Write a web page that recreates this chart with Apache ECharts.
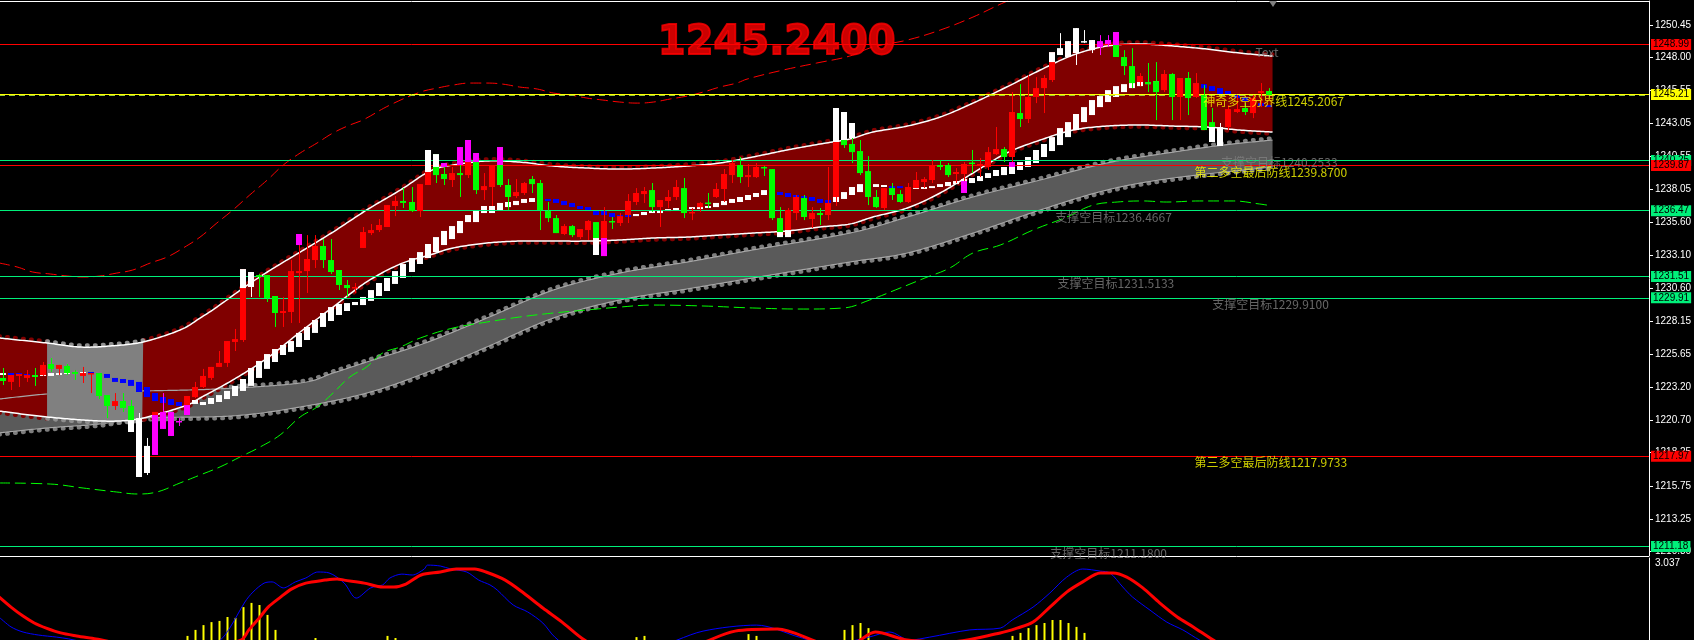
<!DOCTYPE html>
<html><head><meta charset="utf-8">
<script src="https://cdn.jsdelivr.net/npm/echarts@6/dist/echarts.min.js"></script>
<style>html,body{margin:0;padding:0;background:#000;}#c{width:1694px;height:640px;}</style>
</head><body><div id="c"></div>
<script>
// ---------- DATA ----------
// candles: [open, high, low, close]
const candles = [
[1223.87,1224.62,1223.34,1223.64],[1223.57,1224.09,1222.96,1224.09],[1224.02,1224.17,1223.19,1224.17],[1223.87,1224.47,1223.57,1224.09],[1224.09,1224.62,1223.27,1223.94],
[1224.09,1225.07,1224.02,1224.85],[1224.92,1225.37,1224.32,1224.55],[1224.55,1224.85,1224.09,1224.85],[1224.77,1224.92,1224.09,1224.24],[1224.32,1224.47,1223.72,1224.17],
[1224.02,1224.70,1223.49,1224.24],[1224.17,1224.24,1222.73,1224.24],[1224.24,1224.24,1222.28,1222.51],[1222.58,1222.58,1220.85,1221.76],[1221.76,1222.73,1221.46,1222.13],
[1222.13,1222.73,1221.31,1221.61],[1221.76,1222.21,1219.80,1219.80],[1220.85,1221.23,1216.41,1216.41],[1216.71,1219.35,1216.56,1218.75],[1218.07,1221.31,1218.07,1221.31],
[1221.31,1222.73,1220.03,1220.03],[1221.31,1221.31,1219.50,1219.50],[1220.63,1220.85,1220.25,1220.58],[1221.08,1222.51,1221.08,1222.51],[1222.43,1223.57,1222.36,1223.19],
[1223.19,1224.55,1223.11,1224.02],[1223.87,1224.70,1223.72,1224.70],[1224.70,1225.90,1224.70,1225.00],[1225.00,1226.65,1224.70,1226.65],[1226.58,1227.56,1225.90,1226.80],
[1226.73,1232.07,1226.58,1232.07],[1231.85,1231.85,1229.97,1230.72],[1231.62,1231.70,1229.97,1231.47],[1231.62,1231.62,1229.59,1229.89],[1230.04,1230.04,1227.71,1228.76],
[1228.76,1229.97,1227.71,1228.91],[1228.84,1232.75,1228.01,1231.92],[1231.77,1234.71,1228.01,1231.92],[1231.92,1234.63,1230.27,1232.83],[1232.75,1234.63,1232.15,1233.81],
[1233.81,1234.33,1232.15,1232.75],[1232.75,1234.33,1231.70,1231.85],[1232.00,1232.00,1230.49,1230.87],[1230.87,1231.25,1229.97,1230.64],[1230.64,1231.02,1230.27,1230.72],
[1233.66,1235.24,1233.66,1234.86],[1234.78,1235.46,1234.63,1235.01],[1235.01,1235.84,1234.86,1235.39],[1235.24,1236.89,1235.24,1236.89],[1236.82,1237.57,1236.06,1237.20],
[1237.20,1238.17,1236.67,1237.05],[1237.12,1238.25,1236.37,1236.44],[1236.44,1238.47,1235.99,1238.47],[1238.40,1241.04,1238.40,1241.04],[1240.73,1240.73,1238.55,1239.15],
[1239.23,1240.06,1238.40,1238.85],[1238.78,1239.76,1238.25,1239.30],[1239.30,1241.26,1237.50,1239.15],[1239.15,1241.79,1238.93,1241.79],[1240.81,1240.81,1237.72,1238.02],
[1238.02,1239.30,1237.27,1238.32],[1238.25,1239.91,1236.82,1239.91],[1241.26,1241.26,1238.25,1238.40],[1238.40,1238.85,1236.52,1237.50],[1237.57,1238.85,1237.42,1237.87],
[1237.80,1238.63,1237.65,1238.55],[1238.85,1239.08,1237.80,1238.47],[1238.55,1238.78,1235.01,1236.52],[1236.44,1237.12,1235.61,1235.91],[1235.91,1236.14,1234.78,1234.78],
[1234.71,1235.46,1234.63,1235.31],[1235.31,1235.39,1234.48,1234.63],[1234.48,1235.09,1234.33,1235.09],[1235.01,1235.76,1234.26,1235.69],[1235.61,1235.61,1233.13,1233.13],
[1233.05,1236.74,1233.05,1235.69],[1235.69,1235.99,1235.09,1235.61],[1235.54,1236.29,1235.31,1236.06],[1236.14,1237.72,1235.54,1237.20],[1237.12,1238.17,1236.89,1237.80],
[1237.72,1238.25,1237.05,1237.95],[1238.02,1238.55,1236.37,1236.74],[1236.74,1237.27,1235.24,1237.27],[1237.20,1238.02,1236.67,1237.50],[1237.50,1238.78,1237.27,1238.25],
[1238.17,1238.93,1235.91,1236.29],[1236.33,1236.67,1235.76,1236.37],[1236.74,1237.12,1236.37,1237.05],[1237.08,1237.80,1236.67,1237.05],[1237.50,1238.55,1237.42,1238.10],
[1238.10,1239.60,1237.12,1239.23],[1239.15,1240.28,1238.55,1240.06],[1239.91,1240.51,1238.55,1239.00],[1239.00,1239.98,1238.25,1239.15],[1239.00,1240.06,1238.93,1239.76],
[1239.76,1239.83,1239.08,1239.68],[1239.60,1239.60,1235.76,1235.91],[1235.91,1236.74,1234.48,1234.48],[1234.48,1236.67,1234.48,1236.52],[1236.29,1237.65,1235.76,1237.50],
[1237.42,1237.65,1235.76,1235.99],[1235.84,1236.74,1235.16,1236.29],[1236.29,1236.67,1235.39,1236.14],[1236.14,1239.76,1235.76,1237.05],[1237.50,1244.20,1236.82,1244.20],
[1243.90,1243.90,1241.19,1241.41],[1241.49,1243.07,1240.06,1240.88],[1240.96,1241.79,1239.15,1239.30],[1239.45,1240.58,1236.89,1237.50],[1237.50,1238.02,1236.67,1236.74],
[1236.67,1238.17,1236.52,1238.17],[1238.17,1238.55,1237.27,1237.65],[1237.72,1238.02,1237.05,1237.12],[1237.12,1238.55,1237.05,1238.25],[1238.17,1239.38,1238.17,1238.78],
[1238.63,1239.00,1238.17,1238.85],[1238.78,1240.28,1238.55,1239.91],[1239.91,1240.28,1239.53,1239.76],[1239.91,1240.06,1239.00,1239.15],[1239.23,1239.68,1238.55,1239.38],
[1239.23,1240.13,1237.80,1239.98],[1240.09,1241.04,1239.30,1240.06],[1239.83,1240.43,1239.00,1239.98],[1239.76,1241.26,1239.53,1240.88],[1240.73,1242.77,1240.66,1241.11],
[1241.11,1241.26,1240.13,1240.51],[1240.51,1245.40,1240.06,1243.90],[1243.82,1246.00,1242.77,1243.37],[1243.37,1246.68,1243.07,1245.03],[1245.03,1246.53,1244.57,1245.70],
[1245.70,1246.68,1243.82,1246.46],[1246.31,1248.41,1246.16,1248.41],[1248.19,1249.84,1248.19,1248.71],[1248.04,1249.24,1248.04,1249.24],[1248.34,1250.22,1247.44,1250.22],
[1249.24,1250.07,1249.09,1249.20],[1248.56,1249.32,1248.34,1249.32],[1249.24,1249.69,1248.19,1248.79],[1249.32,1249.69,1248.79,1249.02],[1249.92,1249.92,1248.04,1248.04],
[1248.04,1248.56,1246.68,1247.36],[1247.36,1248.71,1245.70,1246.08],[1246.16,1246.83,1245.85,1246.61],[1246.16,1247.59,1245.40,1246.00],[1246.23,1247.66,1243.29,1245.40],
[1245.55,1247.06,1245.40,1246.76],[1246.76,1246.83,1243.29,1245.03],[1245.03,1246.46,1243.29,1246.46],[1246.46,1246.91,1243.67,1244.95],[1245.03,1246.83,1244.95,1246.08],
[1245.18,1245.93,1242.54,1242.54],[1243.14,1244.20,1241.64,1241.64],[1242.77,1243.07,1241.34,1241.34],[1242.77,1244.42,1242.54,1244.12],[1243.90,1245.18,1243.82,1244.12],
[1244.20,1244.57,1243.67,1243.90],[1243.82,1245.18,1243.44,1244.95],[1245.33,1246.08,1244.27,1245.48],[1245.48,1245.70,1244.95,1245.18]
];
const candleColors = 'grrrgrgrgg'+'rrggrggwwr'+'mmmrrrrrrr'+'rwgggrrrrr'+'ggggrrrrrr'+'ggrrggrgrg'+'rrggrrgggg'+'rgrrgrgrrr'+'rgrrrgrrgr'+'rrgrrgggrr'+'grgrrggggg'+'rggrrrrggr'+'rgrrrgrgrr'+'rrwwwwwmmg'+'ggrggrgrgr'+'ggwrrgrrg';

// step indicator blocks (top, bottom) per candle
const midHi = [1224.24,1224.24,1224.24,1224.17,1224.09,1224.17,1224.24,1224.24,1224.32,1224.32,1224.32,1224.32,1224.24,1224.17,1223.87,1223.79,1223.72,1223.57,1223.19,1222.73,
1222.43,1222.28,1222.06,1221.98,1222.21,1222.06,1222.36,1222.58,1222.89,1223.27,1223.79,1224.62,1225.15,1225.67,1226.05,1226.35,1226.65,1227.26,1227.71,1228.23,
1228.76,1229.21,1229.44,1229.51,1229.59,1229.97,1230.49,1231.02,1231.40,1231.92,1232.45,1232.90,1233.35,1233.96,1234.48,1234.94,1235.31,1235.69,1236.14,1236.52,
1236.82,1236.82,1237.05,1237.12,1237.20,1237.35,1237.42,1237.50,1237.35,1237.35,1237.20,1237.05,1236.82,1236.74,1236.52,1236.44,1236.29,1236.14,1236.14,1236.22,
1236.37,1236.44,1236.52,1236.59,1236.67,1236.74,1236.74,1236.74,1236.82,1237.05,1237.20,1237.35,1237.50,1237.65,1237.80,1238.02,1237.87,1237.87,1237.80,1237.65,
1237.57,1237.50,1237.35,1237.27,1237.50,1237.87,1238.25,1238.47,1238.55,1238.47,1238.40,1238.32,1238.32,1238.25,1238.25,1238.25,1238.32,1238.47,1238.63,1238.70,
1238.85,1238.93,1239.08,1239.30,1239.53,1239.76,1239.83,1240.13,1240.51,1241.04,1241.49,1242.01,1242.69,1243.14,1243.75,1244.27,1244.80,1245.10,1245.55,1245.85,
1246.00,1246.08,1246.16,1246.16,1246.23,1246.23,1246.16,1246.16,1246.16,1246.08,1246.00,1245.85,1245.70,1245.48,1245.25,1245.03,1244.80,1244.57,1244.42];
const midLo = [1224.09,1224.09,1224.09,1224.02,1223.94,1224.02,1224.02,1224.09,1224.17,1224.17,1224.17,1224.17,1224.02,1223.87,1223.57,1223.49,1223.27,1222.81,1222.43,1222.13,
1221.98,1221.83,1221.76,1221.76,1221.91,1221.83,1221.91,1222.06,1222.28,1222.51,1222.89,1223.27,1223.87,1224.55,1225.07,1225.60,1225.83,1226.20,1226.73,1227.26,
1227.71,1228.16,1228.61,1228.91,1229.36,1229.36,1229.67,1230.04,1230.42,1230.95,1231.40,1231.85,1232.45,1232.90,1233.35,1233.88,1234.33,1234.78,1235.61,1235.61,
1236.29,1236.29,1236.52,1236.74,1236.89,1237.05,1237.12,1237.35,1237.20,1237.05,1236.89,1236.74,1236.59,1236.44,1236.14,1236.14,1235.99,1235.99,1235.99,1236.06,
1236.14,1236.29,1236.29,1236.44,1236.52,1236.59,1236.59,1236.59,1236.67,1236.74,1236.89,1237.05,1237.12,1237.27,1237.50,1237.65,1237.72,1237.65,1237.50,1237.50,
1237.42,1237.20,1237.05,1237.05,1237.12,1237.35,1237.65,1237.87,1238.25,1238.25,1238.25,1238.17,1238.17,1238.10,1238.10,1238.10,1238.17,1238.25,1238.32,1238.47,
1238.55,1238.55,1238.70,1238.93,1239.08,1239.15,1239.23,1239.53,1239.76,1240.06,1240.51,1240.96,1241.41,1242.01,1242.54,1243.14,1243.67,1244.27,1244.65,1245.03,
1245.40,1245.70,1245.85,1246.00,1246.08,1246.00,1246.00,1246.00,1245.93,1245.85,1245.70,1245.48,1245.25,1245.18,1244.95,1244.73,1244.50,1244.35,1244.27];
const midColors = 'wbbbbwwwwww'+'bbbbbbbbbbbbb'+'wwwwwwwwwwwwwwwwwwwwwwwwwwwwwwwwwwwwwwwwwwww'+'bbbbbbbbbbb'+'wwwwwwwwwwwwwwwwww'+'bbbbbbb'+'wwwwwww'+'bbb'+'wwwwwwwwwwwwwwwwwwwwwwwwwwwwwwww'+'bbbbbbbbbbbbb';

// candle parts outside the channel: [index, top, bottom, colour key]
const overlays = [
[16,1220.70,1219.80,'w'],[19,1221.08,1218.07,'m'],[23,1221.83,1221.08,'m'],[30,1232.07,1230.64,'w'],[37,1234.71,1233.88,'m'],
[53,1241.04,1239.38,'w'],[54,1240.73,1239.76,'w'],[55,1240.06,1239.76,'m'],[57,1241.26,1239.91,'m'],[58,1241.79,1240.13,'m'],
[59,1240.81,1240.13,'m'],[62,1241.26,1239.91,'m'],[74,1234.41,1233.13,'w'],[75,1234.41,1233.05,'m'],[97,1234.86,1234.48,'w'],
[98,1235.01,1234.48,'w'],[104,1244.20,1241.64,'w'],[105,1243.90,1241.79,'w'],[106,1243.07,1241.94,'w'],[120,1238.70,1237.80,'m'],
[126,1240.13,1239.76,'m'],[131,1248.41,1247.66,'w'],[139,1249.92,1248.94,'m'],[151,1242.77,1241.64,'w']
];

// channel edges [bar index, price]
const bandUpper = [[-0.5,1226.88],[5.5,1226.50],[9.6,1226.20],[13.4,1226.28],[17.5,1226.58],[22.1,1227.48],[24.6,1228.38],[26.7,1229.21],[30.0,1230.64],[33.0,1231.85],[37.1,1233.35],[41.2,1234.86],[45.4,1236.52],[49.6,1238.02],[53.3,1239.45],[56.2,1239.91],[60.4,1240.21],[64.5,1240.13],[68.7,1239.83],[72.9,1239.68],[77.0,1239.60],[81.2,1239.68],[85.4,1239.83],[89.5,1240.06],[93.6,1240.51],[97.9,1241.04],[102.0,1241.49],[105.7,1241.86],[108.6,1242.39],[112.9,1242.84],[117.0,1243.52],[121.1,1244.57],[125.3,1245.78],[129.5,1247.06],[133.6,1248.19],[137.8,1248.87],[142.0,1249.02],[146.1,1248.87],[150.3,1248.64],[154.4,1248.34],[158.5,1248.11]];
const bandLower = [[-0.5,1221.38],[5.5,1220.93],[12.1,1220.63],[16.0,1220.70],[19.0,1221.08],[23.0,1221.83],[24.6,1222.36],[28.7,1223.72],[33.0,1225.37],[37.1,1227.33],[41.2,1229.21],[45.4,1231.10],[49.6,1232.45],[53.3,1233.13],[56.2,1233.66],[60.4,1234.03],[64.5,1234.18],[68.7,1234.18],[72.9,1234.18],[77.0,1234.26],[81.2,1234.41],[85.4,1234.48],[89.5,1234.63],[93.6,1234.78],[97.9,1234.94],[102.0,1235.24],[105.7,1235.46],[108.6,1235.99],[112.9,1236.67],[117.0,1237.80],[121.1,1239.30],[125.3,1240.81],[129.5,1241.79],[133.6,1242.54],[137.8,1242.84],[142.0,1242.92],[146.1,1242.84],[150.3,1242.77],[154.4,1242.54],[158.5,1242.39]];
const grayZone = [5.5, 17.5];
const chanUpper = [[-0.5,1222.28],[5.5,1222.66],[12.1,1222.81],[17.5,1222.89],[26.7,1223.04],[37.1,1223.49],[41.2,1224.24],[45.4,1225.07],[52.7,1226.50],[60.4,1228.38],[68.7,1230.49],[77.0,1231.77],[85.4,1232.60],[93.6,1233.51],[105.7,1234.78],[112.9,1235.99],[121.1,1237.50],[129.5,1238.78],[137.8,1240.06],[146.1,1240.88],[152.3,1241.41],[158.5,1241.79]];
const chanLower = [[-0.5,1219.73],[5.5,1220.10],[12.1,1220.40],[17.5,1220.85],[28.7,1221.01],[37.1,1221.68],[45.4,1222.73],[52.7,1224.24],[60.4,1226.20],[68.7,1228.38],[77.0,1229.74],[85.4,1230.57],[93.6,1231.40],[105.7,1232.60],[112.9,1233.28],[121.1,1234.78],[129.5,1236.52],[137.8,1238.02],[146.1,1238.93],[158.5,1239.76]];

const redDash = [[-0.5,1232.53],[1.75,1232.23],[3.7,1231.85],[5.9,1231.70],[8.0,1231.55],[10.0,1231.47],[12.1,1231.55],[14.2,1231.77],[16.2,1232.00],[18.4,1232.53],[20.5,1232.98],[22.5,1233.66],[24.6,1234.48],[26.7,1235.54],[28.7,1236.52],[30.8,1237.65],[33.0,1238.78],[35.0,1239.91],[37.1,1240.81],[39.2,1241.56],[41.2,1242.32],[43.3,1242.92],[44.9,1243.29],[48.3,1244.42],[52.1,1245.40],[54.2,1245.70],[56.2,1245.93],[58.3,1246.08],[60.4,1246.08],[62.4,1246.00],[64.5,1245.78],[66.7,1245.63],[68.7,1245.33],[70.8,1245.18],[72.9,1244.95],[74.9,1244.80],[77.0,1244.65],[79.2,1244.57],[81.2,1244.65],[83.3,1244.88],[85.4,1245.10],[87.4,1245.40],[89.5,1245.78],[91.6,1246.08],[92.9,1246.38],[97.4,1247.06],[101.6,1247.59],[105.7,1248.11],[108.6,1248.79],[112.9,1249.32],[117.0,1250.07],[121.1,1251.05],[125.1,1252.18],[128.2,1252.93]];
const greenDash = [[-0.5,1215.96],[5.9,1215.88],[10.0,1215.58],[14.2,1215.28],[16.8,1215.13],[19.2,1215.28],[22.1,1215.96],[24.6,1216.56],[27.1,1217.17],[29.6,1217.92],[32.1,1218.67],[34.6,1219.58],[37.1,1220.93],[39.2,1221.68],[41.2,1222.73],[43.3,1223.94],[45.4,1224.70],[47.4,1225.75],[49.6,1226.20],[52.1,1226.88],[56.2,1227.63],[60.4,1228.08],[64.5,1228.46],[68.7,1228.76],[72.9,1228.99],[77.0,1229.21],[81.2,1229.36],[87.4,1229.29],[93.6,1229.14],[99.9,1229.06],[104.9,1229.14],[108.2,1229.74],[112.0,1230.64],[115.1,1231.40],[118.2,1232.15],[121.1,1233.28],[124.5,1233.88],[128.6,1235.01],[132.8,1235.99],[136.1,1236.89],[139.1,1237.12],[142.3,1237.20],[145.3,1237.12],[149.4,1237.20],[153.6,1237.20],[156.9,1236.97],[157.8,1236.89]];

// lower pane (MACD-like)
const macdBlue = [[-0.5,1.07],[1.0,0.74],[2.5,0.57],[4.4,0.47],[6.7,0.40],[8.2,0.34],[12.1,0.14],[24.6,0.04],[27.1,0.30],[28.3,0.70],[30.2,1.57],[31.2,1.90],[32.6,2.20],[33.6,2.24],[35.0,2.04],[36.5,2.24],[37.8,2.37],[39.3,2.57],[40.7,2.54],[42.6,2.20],[44.1,1.70],[45.9,2.04],[47.4,2.14],[48.3,2.37],[49.8,2.50],[51.1,2.47],[52.6,2.67],[53.0,2.80],[54.6,2.77],[55.9,2.67],[57.9,2.57],[59.4,2.30],[60.8,2.14],[61.7,1.97],[63.7,1.47],[65.5,1.24],[67.4,0.87],[68.9,0.40],[71.4,-0.03],[80.8,0.04],[87.4,0.60],[94.1,0.80],[99.4,0.40],[103.1,0.14],[108.1,0.40],[110.7,0.57],[113.2,0.30],[115.7,0.40],[120.7,0.64],[124.5,0.70],[126.0,0.97],[128.6,1.40],[130.7,1.87],[132.8,2.40],[134.8,2.67],[137.0,2.60],[138.2,2.54],[139.8,2.07],[141.0,1.74],[143.2,1.30],[145.3,0.90],[147.3,0.64],[149.4,0.30],[152.5,-0.10],[157.8,-0.36]];
const macdRed = [[-0.5,1.74],[1.0,1.40],[2.5,1.10],[3.9,0.87],[5.4,0.70],[7.2,0.54],[9.2,0.44],[11.6,0.34],[15.9,0.14],[24.6,0.04],[29.7,0.30],[30.7,0.64],[32.1,1.07],[33.1,1.40],[34.5,1.70],[36.0,2.00],[37.8,2.20],[40.2,2.30],[41.7,2.34],[42.6,2.30],[45.1,2.20],[47.4,2.07],[48.8,2.07],[50.3,2.17],[52.2,2.47],[54.6,2.57],[56.6,2.67],[58.9,2.67],[60.3,2.57],[62.7,2.30],[65.0,1.87],[67.4,1.37],[69.8,0.90],[72.6,0.30],[75.8,-0.10],[84.5,-0.03],[91.4,0.60],[96.7,0.67],[102.2,0.20],[105.7,0.14],[108.9,0.57],[112.9,0.30],[118.2,0.24],[124.5,0.54],[126.6,0.70],[128.6,0.90],[130.7,1.40],[132.8,1.90],[134.8,2.24],[137.0,2.54],[138.6,2.54],[140.3,2.40],[142.3,2.04],[144.4,1.54],[146.6,1.07],[148.6,0.74],[151.1,0.30],[153.8,-0.10],[157.8,-0.36]];
const macdHist = [[23,0.44],[24,0.64],[25,0.80],[26,0.90],[27,0.94],[28,1.07],[29,1.04],[30,1.40],[31,1.54],[32,1.47],[33,1.14],[34,0.64],[39,0.37],[48,0.44],[49,0.37],[79,0.40],[80,0.44],[93,0.50],[94,0.44],[105,0.64],[106,0.80],[107,0.87],[108,0.70],[126,0.44],[127,0.54],[128,0.70],[129,0.80],[130,0.87],[131,0.97],[132,0.97],[133,0.87],[134,0.74],[135,0.54]];

// horizontal levels [price, colour]
const levels = [[1248.99,'#ff0000'],[1245.21,'#ffff00'],[1240.25,'#00f07a'],[1239.87,'#ff0000'],[1236.47,'#00f07a'],[1231.51,'#00f07a'],[1229.91,'#00f07a'],[1217.97,'#ff0000'],[1211.18,'#00f07a']];
const priceTicks = [1250.45,1248.00,1245.55,1243.05,1240.55,1238.05,1235.60,1233.10,1230.60,1228.15,1225.65,1223.20,1220.70,1218.25,1215.75,1213.25,1210.80];
const priceRange = [1210.46, 1252.26];
const lowerRange = [0.3037, 3.037];
const lowerTicks = [3.037];
// text objects [text, bar index, price, colour key]
const texts = [
['支撑空目标1240.2533',152.0,1240.13,'gray'],
['神奇多空分界线1245.2067',149.8,1244.73,'yellow'],
['第二多空最后防线1239.8700',148.7,1239.38,'yellow'],
['支撑空目标1236.4667',131.3,1235.99,'gray'],
['支撑空目标1231.5133',131.6,1231.02,'gray'],
['支撑空目标1229.9100',150.9,1229.44,'gray'],
['第三多空最后防线1217.9733',148.7,1217.47,'yellow'],
['支撑空目标1211.1800',130.7,1210.69,'gray'],
['Text',156.3,1248.41,'gray']
];
const title = ['1245.2400', 96.6, 1249.05];

// ---------- RENDER ----------
const COL = {r:'#ff0000', g:'#00ff00', w:'#ffffff', m:'#ff00ff', b:'#0000ff', yellow:'#ffff00', gray:'#808080'};
const CJK = '"Noto Sans CJK SC","Liberation Sans",sans-serif';

function crSample(pts){
  const out=[], n=pts.length;
  for(let i=0;i<n-1;i++){
    const p0=pts[Math.max(i-1,0)], p1=pts[i], p2=pts[i+1], p3=pts[Math.min(i+2,n-1)];
    const steps=Math.max(2,Math.ceil(Math.abs(p2[0]-p1[0])/2));
    for(let s=0;s<steps;s++){
      const t=s/steps,t2=t*t,t3=t2*t;
      const f=k=>0.5*((2*p1[k])+(-p0[k]+p2[k])*t+(2*p0[k]-5*p1[k]+4*p2[k]-p3[k])*t2+(-p0[k]+3*p1[k]-3*p2[k]+p3[k])*t3);
      out.push([f(0),f(1)]);
    }
  }
  out.push(pts[n-1].slice());
  return out;
}

const chart = echarts.init(document.getElementById('c'), null, {renderer:'canvas'});

function bandRender(params, api){
  const px = arr => arr.map(d => api.coord(d));
  const up=crSample(px(bandUpper)), lo=crSample(px(bandLower));
  const cu=crSample(px(chanUpper)), cl=crSample(px(chanLower));
  const gz0=api.coord([grayZone[0],1230])[0], gz1=api.coord([grayZone[1],1230])[0];
  const inX=(pts,a,b)=>pts.filter(p=>p[0]>=a&&p[0]<=b);
  const sh=(pts,dy)=>pts.map(p=>[p[0],p[1]+dy]);
  const poly=(a,b,fill)=>({type:'polygon',shape:{points:a.concat(b.slice().reverse())},style:{fill:fill}});
  const pl=(pts,stroke,lw,dash,cap)=>({type:'polyline',shape:{points:pts},style:{stroke:stroke,lineWidth:lw,fill:null,lineDash:dash||null,lineCap:cap||'butt'}});
  const bump=(pts,c)=>pl(pts,c,4,[1,7],'round');
  const ch=[];
  ch.push(poly(cu,cl,'#5a5a5a'));
  ch.push(bump(sh(cu,-1.8),'#7d7d7d'));
  ch.push(bump(sh(cl,1.8),'#7d7d7d'));
  [[-1e9,gz0],[gz1,1e9]].forEach(r=>{
    ch.push(bump(sh(inX(up,r[0],r[1]),-1.8),'#800000'));
    ch.push(bump(sh(inX(lo,r[0],r[1]),1.8),'#800000'));
  });
  ch.push(poly(up,lo,'#800000'));
  ch.push(pl(cu,'#a6a6a6',1.2));
  ch.push(pl(cl,'#a6a6a6',1.2));
  const gu=inX(up,gz0,gz1), gl=inX(lo,gz0,gz1);
  ch.push(bump(sh(gu,-1.8),'#8e8e8e'));
  ch.push(bump(sh(gl,1.8),'#8e8e8e'));
  ch.push(poly(gu,gl,'#808080'));
  ch.push(pl(up,'#ffffff',1.5));
  ch.push(pl(lo,'#ffffff',1.5));
  return {type:'group',children:ch};
}

function blockRender(colorOf){
  return function(params, api){
    const i=api.value(0);
    const a=api.coord([i,api.value(1)]), b=api.coord([i,api.value(2)]);
    const x=Math.round(a[0]);
    const top=Math.min(a[1],b[1]), h=Math.max(Math.abs(b[1]-a[1]),1.5);
    return {type:'rect',shape:{x:x-3,y:top,width:6,height:h},style:{fill:colorOf(params.dataIndex)}};
  };
}

function candleRender(params, api){
  const i=api.value(0);
  const o=api.coord([i,api.value(1)]), h=api.coord([i,api.value(2)]), l=api.coord([i,api.value(3)]), c=api.coord([i,api.value(4)]);
  const col=COL[candleColors[params.dataIndex]];
  const x=Math.round(o[0]);
  const top=Math.min(o[1],c[1]), bh=Math.max(Math.abs(c[1]-o[1]),1.5);
  return {type:'group',children:[
    {type:'line',shape:{x1:x+0.5,y1:h[1],x2:x+0.5,y2:l[1]},style:{stroke:col,lineWidth:1}},
    {type:'rect',shape:{x:x-3,y:top,width:6,height:bh},style:{fill:col}}
  ]};
}

function histRender(params, api){
  const i=api.value(0);
  const a=api.coord([i,api.value(1)]), b=api.coord([i,lowerRange[0]]);
  const x=Math.round(a[0]);
  return {type:'rect',shape:{x:x-0.5,y:a[1],width:2,height:Math.max(b[1]-a[1],0)},style:{fill:'#ffff00'}};
}

const markLineData = levels.map(lv=>({
  yAxis: lv[0],
  lineStyle:{color:lv[1],width:1,type:'solid'},
  label:{show:true,position:'end',formatter:lv[0].toFixed(2),backgroundColor:lv[1],color:'#000',fontSize:10,fontFamily:'Liberation Sans',padding:[1,2,0,2],distance:2}
}));
markLineData.splice(2,0,{yAxis:1245.17,lineStyle:{color:'#9acd32',width:1,type:[6,4]},label:{show:false}});
// pane frame lines at the ends of the price scale
markLineData.push({yAxis:priceRange[1],lineStyle:{color:'#ffffff',width:1,type:'solid'},label:{show:false}});
markLineData.push({yAxis:priceRange[0],lineStyle:{color:'#ffffff',width:1,type:'solid'},label:{show:false}});

const option = {
  backgroundColor:'#000',
  animation:false,
  grid:[
    {left:-1,right:45,top:1,height:555,show:false,containLabel:false,outerBoundsMode:'none'},
    {left:-1,right:45,top:558,height:82,show:false,containLabel:false,outerBoundsMode:'none'}
  ],
  xAxis:[
    {type:'value',gridIndex:0,min:-0.5,max:205.5,show:false},
    {type:'value',gridIndex:1,min:-0.5,max:205.5,show:false}
  ],
  yAxis:[
    {type:'value',gridIndex:0,position:'right',min:priceRange[0],max:priceRange[1],
     axisLine:{show:true,onZero:false,lineStyle:{color:'#ffffff',width:1}},
     axisTick:{show:true,inside:false,length:4,lineStyle:{color:'#ffffff'},customValues:priceTicks},
     axisLabel:{show:true,color:'#ffffff',fontSize:10,fontFamily:'Liberation Sans',margin:6,customValues:priceTicks,formatter:v=>v.toFixed(2)},
     splitLine:{show:false}},
    {type:'value',gridIndex:1,position:'right',min:lowerRange[0],max:lowerRange[1],
     axisLine:{show:true,onZero:false,lineStyle:{color:'#ffffff',width:1}},
     axisTick:{show:false},
     axisLabel:{show:true,color:'#ffffff',fontSize:10,fontFamily:'Liberation Sans',margin:6,customValues:lowerTicks,verticalAlign:'top',formatter:v=>v.toFixed(3)},
     splitLine:{show:false}}
  ],
  series:[
    {type:'custom',name:'band',xAxisIndex:0,yAxisIndex:0,z:1,clip:false,silent:true,data:[[0,1230]],renderItem:bandRender},
    {type:'line',name:'upperEnv',xAxisIndex:0,yAxisIndex:0,z:3,smooth:0.4,symbol:'none',silent:true,data:redDash,
     lineStyle:{color:'#ff0000',width:1,type:[11,5]},
     markLine:{silent:true,symbol:'none',animation:false,data:markLineData}},
    {type:'line',name:'lowerEnv',xAxisIndex:0,yAxisIndex:0,z:3,smooth:0.4,symbol:'none',silent:true,data:greenDash,
     lineStyle:{color:'#00ff00',width:1,type:[11,5]}},
    {type:'custom',name:'steps',xAxisIndex:0,yAxisIndex:0,z:4,silent:true,
     data:midHi.map((v,i)=>[i,v,midLo[i]]),renderItem:blockRender(i=>COL[midColors[i]])},
    {type:'custom',name:'candles',xAxisIndex:0,yAxisIndex:0,z:5,silent:true,
     data:candles.map((c,i)=>[i,c[0],c[1],c[2],c[3]]),renderItem:candleRender},
    {type:'custom',name:'outside',xAxisIndex:0,yAxisIndex:0,z:6,silent:true,
     data:overlays.map(o=>[o[0],o[1],o[2]]),renderItem:blockRender(i=>COL[overlays[i][3]])},
    {type:'scatter',name:'texts',xAxisIndex:0,yAxisIndex:0,z:8,silent:true,symbolSize:1,itemStyle:{color:'rgba(0,0,0,0)'},
     data:texts.map(t=>({value:[t[1],t[2]],name:t[0],label:{color:COL[t[3]]}})),
     label:{show:true,position:'right',distance:0,formatter:p=>p.name,fontSize:12,fontFamily:CJK,textBorderWidth:0}},
    {type:'scatter',name:'title',xAxisIndex:0,yAxisIndex:0,z:8,silent:true,symbolSize:1,itemStyle:{color:'rgba(0,0,0,0)'},
     data:[{value:[title[1],title[2]],name:title[0]}],
     label:{show:true,position:'inside',formatter:p=>p.name,fontSize:40,fontWeight:'bold',fontFamily:'"DejaVu Sans",sans-serif',color:'#ff0000',textBorderWidth:1.8,textBorderColor:'#ff0000',textShadowBlur:0}},
    {type:'line',name:'macdBlue',xAxisIndex:1,yAxisIndex:1,z:3,smooth:0.3,symbol:'none',silent:true,data:macdBlue,lineStyle:{color:'#0000ff',width:1},
     markLine:{silent:true,symbol:'none',animation:false,data:[{yAxis:lowerRange[1],lineStyle:{color:'#ffffff',width:1,type:'solid'},label:{show:false}}]}},
    {type:'line',name:'macdRed',xAxisIndex:1,yAxisIndex:1,z:4,smooth:0.3,symbol:'none',silent:true,data:macdRed,lineStyle:{color:'#ff0000',width:3}},
    {type:'custom',name:'hist',xAxisIndex:1,yAxisIndex:1,z:2,silent:true,data:macdHist,renderItem:histRender}
  ],
  graphic:[
    {type:'rect',z:100,silent:true,shape:{x:1040,y:559,width:140,height:6},style:{fill:'#000'}},
    {type:'polygon',z:100,silent:true,shape:{points:[[1269,1],[1277,1],[1273,7]]},style:{fill:'#7f7f7f'}}
  ]
};
chart.setOption(option);
</script>
</body></html>
